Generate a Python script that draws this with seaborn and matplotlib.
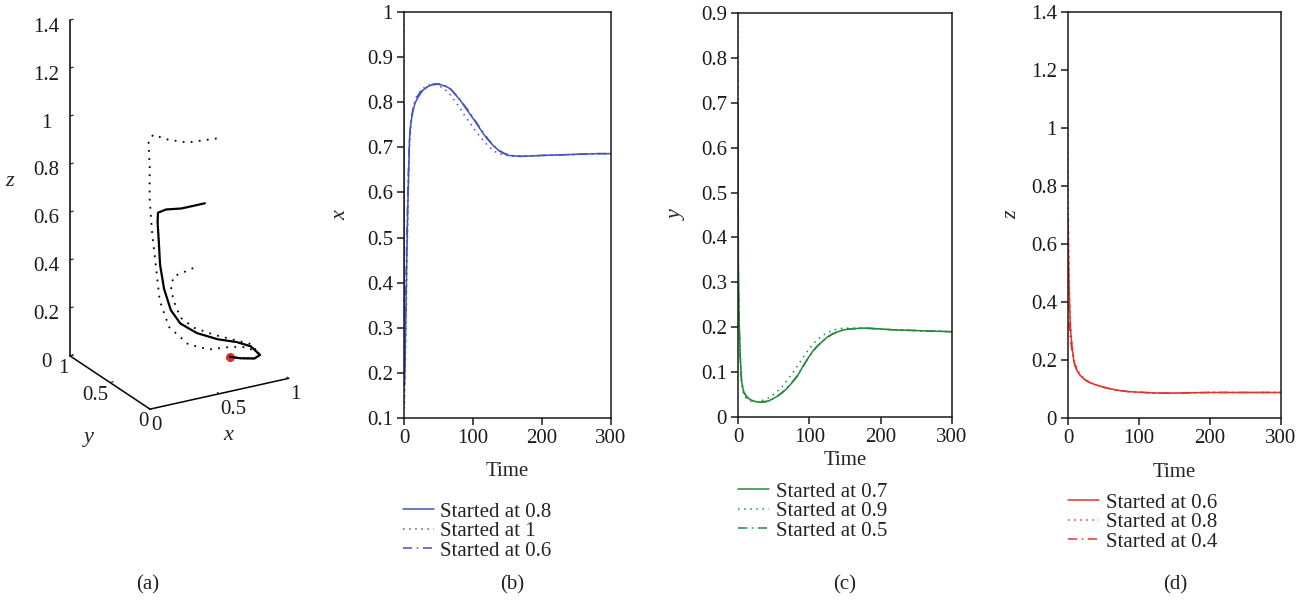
import numpy as np
import matplotlib
matplotlib.use("Agg")
import matplotlib.pyplot as plt
import seaborn as sns
from matplotlib.ticker import FuncFormatter

# ---------------- data ----------------
# (a) phase-space trajectories (x, y, z) for the three initial states
traj_solid_x = [0.80, 0.63, 0.52, 0.45, 0.43, 0.41, 0.39, 0.39, 0.41, 0.45, 0.54, 0.66, 0.77, 0.84, 0.88, 0.84, 0.75, 0.686]
traj_solid_y = [0.70, 0.70, 0.70, 0.68, 0.65, 0.60, 0.55, 0.50, 0.45, 0.40, 0.35, 0.30, 0.25, 0.20, 0.15, 0.15, 0.17, 0.19]
traj_solid_z = [0.60, 0.60, 0.61, 0.61, 0.58, 0.51, 0.43, 0.34, 0.26, 0.21, 0.17, 0.14, 0.125, 0.11, 0.08, 0.07, 0.078, 0.088]

traj_high_x = [1.00, 0.79, 0.65, 0.53, 0.48, 0.46, 0.43, 0.42, 0.40, 0.37, 0.38, 0.46, 0.57, 0.69, 0.80, 0.88, 0.84, 0.75, 0.686]
traj_high_y = [0.90, 0.90, 0.90, 0.88, 0.85, 0.80, 0.75, 0.70, 0.62, 0.52, 0.42, 0.32, 0.25, 0.20, 0.17, 0.15, 0.15, 0.17, 0.19]
traj_high_z = [0.80, 0.81, 0.84, 0.88, 0.86, 0.77, 0.66, 0.52, 0.41, 0.29, 0.20, 0.14, 0.12, 0.126, 0.118, 0.08, 0.07, 0.078, 0.088]

traj_low_x = [0.60, 0.52, 0.45, 0.41, 0.41, 0.44, 0.51, 0.62, 0.74, 0.83, 0.88, 0.84, 0.75, 0.686]
traj_low_y = [0.50, 0.50, 0.48, 0.45, 0.42, 0.38, 0.33, 0.27, 0.22, 0.18, 0.15, 0.15, 0.17, 0.19]
traj_low_z = [0.40, 0.39, 0.39, 0.36, 0.31, 0.24, 0.20, 0.17, 0.144, 0.125, 0.08, 0.07, 0.078, 0.088]

equilibrium = [0.686, 0.19, 0.088]

# (b) x(t)
time_b = [0, 0.5, 1.5, 3, 4, 5, 6, 8, 10, 13, 16, 20, 27, 35, 42, 48, 55, 62, 68, 75, 82, 88, 95,
          102, 108, 115, 122, 130, 138, 145, 152, 160, 170, 185, 200, 220, 240, 260, 280, 300]
x_start_08 = [0.80, 0.17, 0.22, 0.35, 0.45, 0.53, 0.60, 0.72, 0.755, 0.78, 0.798, 0.81, 0.826, 0.835, 0.839,
              0.840, 0.838, 0.834, 0.829, 0.816, 0.803, 0.79, 0.775, 0.76, 0.746, 0.73, 0.716, 0.703, 0.692,
              0.686, 0.682, 0.681, 0.680, 0.681, 0.682, 0.683, 0.684, 0.685, 0.686, 0.686]
x_start_1 = [1.00, 0.12, 0.18, 0.30, 0.40, 0.50, 0.58, 0.70, 0.75, 0.785, 0.805, 0.818, 0.83, 0.838, 0.840,
             0.838, 0.833, 0.825, 0.815, 0.80, 0.785, 0.77, 0.755, 0.74, 0.728, 0.715, 0.703, 0.692, 0.686,
             0.683, 0.681, 0.680, 0.680, 0.681, 0.682, 0.683, 0.684, 0.685, 0.686, 0.686]
x_start_06 = [0.60, 0.20, 0.27, 0.42, 0.50, 0.57, 0.63, 0.72, 0.76, 0.785, 0.80, 0.815, 0.828, 0.836, 0.840,
              0.841, 0.840, 0.835, 0.828, 0.817, 0.805, 0.792, 0.778, 0.762, 0.748, 0.733, 0.718, 0.704,
              0.693, 0.687, 0.683, 0.681, 0.680, 0.681, 0.682, 0.683, 0.684, 0.685, 0.686, 0.686]

# (c) y(t)
time_c = [0, 0.5, 1.5, 3, 5, 8, 12, 16, 21, 26, 31, 36, 42, 48, 55, 62, 69, 76, 83, 90, 97, 104, 111,
          118, 125, 132, 140, 148, 156, 165, 175, 185, 200, 220, 240, 260, 280, 300]
y_start_07 = [0.70, 0.35, 0.22, 0.14, 0.08, 0.055, 0.045, 0.04, 0.036, 0.034, 0.033, 0.033, 0.035, 0.04,
              0.046, 0.054, 0.064, 0.077, 0.09, 0.11, 0.128, 0.145, 0.158, 0.168, 0.178, 0.185, 0.19,
              0.194, 0.196, 0.197, 0.198, 0.198, 0.196, 0.194, 0.193, 0.192, 0.191, 0.19]
y_start_09 = [0.90, 0.30, 0.20, 0.13, 0.075, 0.05, 0.04, 0.036, 0.034, 0.034, 0.035, 0.038, 0.042, 0.048,
              0.057, 0.068, 0.082, 0.097, 0.113, 0.13, 0.146, 0.16, 0.172, 0.181, 0.188, 0.193, 0.196,
              0.198, 0.198, 0.198, 0.198, 0.197, 0.196, 0.194, 0.193, 0.192, 0.191, 0.19]
y_start_05 = [0.50, 0.30, 0.21, 0.14, 0.08, 0.056, 0.046, 0.04, 0.036, 0.034, 0.033, 0.034, 0.036, 0.04,
              0.046, 0.055, 0.066, 0.078, 0.092, 0.11, 0.128, 0.144, 0.157, 0.168, 0.177, 0.184, 0.19,
              0.194, 0.196, 0.197, 0.198, 0.197, 0.196, 0.194, 0.193, 0.192, 0.191, 0.19]

# (d) z(t)
time_d = [0, 0.5, 1, 2, 3, 4, 6, 8, 10, 13, 16, 20, 25, 30, 37, 45, 55, 65, 75, 85, 100, 115, 130,
          150, 175, 200, 250, 300]
z_start_06 = [0.69, 0.60, 0.52, 0.41, 0.34, 0.29, 0.24, 0.20, 0.18, 0.162, 0.15, 0.14, 0.13, 0.123,
              0.116, 0.11, 0.103, 0.098, 0.094, 0.091, 0.089, 0.087, 0.086, 0.086, 0.087, 0.088, 0.088, 0.088]
z_start_08 = [1.00, 0.75, 0.60, 0.45, 0.36, 0.30, 0.25, 0.21, 0.19, 0.17, 0.155, 0.143, 0.133, 0.125,
              0.117, 0.11, 0.103, 0.098, 0.094, 0.091, 0.089, 0.087, 0.086, 0.086, 0.087, 0.088, 0.088, 0.088]
z_start_04 = [0.40, 0.37, 0.35, 0.31, 0.28, 0.26, 0.225, 0.20, 0.18, 0.163, 0.151, 0.14, 0.13, 0.123,
              0.116, 0.11, 0.103, 0.098, 0.094, 0.091, 0.089, 0.087, 0.086, 0.086, 0.087, 0.088, 0.088, 0.088]

labels_b = ["Started at 0.8", "Started at 1", "Started at 0.6"]
labels_c = ["Started at 0.7", "Started at 0.9", "Started at 0.5"]
labels_d = ["Started at 0.6", "Started at 0.8", "Started at 0.4"]
panel_tags = ["(a)", "(b)", "(c)", "(d)"]

# ---------------- style ----------------
sns.set_style("white")
plt.rcParams["font.family"] = ["Liberation Serif", "DejaVu Serif"]
plt.rcParams["axes.edgecolor"] = "#1a1a1a"
plt.rcParams["xtick.color"] = "#1a1a1a"
plt.rcParams["ytick.color"] = "#1a1a1a"
plt.rcParams["text.color"] = "#222222"

FS = 15
W, H = 1306, 604
fig = plt.figure(figsize=(W / 100, H / 100), dpi=100)

BLUE = "#4453bd"
GREEN = "#1f8a3a"
RED = "#e2342c"
STYLES = ["-", (0, (1, 3)), (0, (6, 3, 1, 3))]
fmt = FuncFormatter(lambda v, p: f"{v:g}")


def px_axes(left, right, top, bottom, **kw):
    return fig.add_axes([left / W, 1 - bottom / H, (right - left) / W, (bottom - top) / H], **kw)


def series_panel(ax, t, series, labels, color, ylim, yticks, ylabel,
                 xlabelpad, ylabelpad, legend_xy):
    for vals, lab, ls in zip(series, labels, STYLES):
        sns.lineplot(x=t, y=vals, ax=ax, color=color, linestyle=ls, linewidth=1.1,
                     label=lab, sort=False)
    ax.set_xlim(0, 300)
    ax.set_ylim(*ylim)
    ax.set_xticks([0, 100, 200, 300])
    ax.set_yticks(yticks)
    ax.xaxis.set_major_formatter(fmt)
    ax.yaxis.set_major_formatter(fmt)
    ax.tick_params(direction="out", length=5, width=1.1, labelsize=FS, pad=3,
                   top=False, right=False, left=True, bottom=True)
    for s in ax.spines.values():
        s.set_linewidth(1.1)
        s.set_visible(True)
    ax.set_xlabel("Time", fontsize=FS, labelpad=xlabelpad)
    ax.set_ylabel(ylabel, fontsize=FS + 1, style="italic", labelpad=ylabelpad)
    ax.legend(loc="upper left", bbox_to_anchor=(legend_xy[0] / W, 1 - legend_xy[1] / H),
              bbox_transform=fig.transFigure, frameon=False, fontsize=FS,
              handlelength=1.5, handletextpad=0.3, borderpad=0, borderaxespad=0,
              labelspacing=0.0)


# (b)
ax_b = px_axes(404, 611, 12, 418)
series_panel(ax_b, time_b, [x_start_08, x_start_1, x_start_06], labels_b, BLUE,
             (0.1, 1.0), np.arange(0.1, 1.01, 0.1).round(1), "x", 10, 12, (403, 502))

# (c)
ax_c = px_axes(738, 952, 13, 417)
series_panel(ax_c, time_c, [y_start_07, y_start_09, y_start_05], labels_c, GREEN,
             (0, 0.9), np.arange(0, 0.91, 0.1).round(1), "y", 3, 10, (738, 482))

# (d)
ax_d = px_axes(1068, 1281, 12, 418)
series_panel(ax_d, time_d, [z_start_06, z_start_08, z_start_04], labels_d, RED,
             (0, 1.4), np.arange(0, 1.41, 0.2).round(1), "z", 11, 7, (1068, 493))

# (a) phase portrait
ax_a = fig.add_axes([(175 - 160) / W, 1 - (203.5 + 160) / H, 320 / W, 320 / H], projection="3d")
ax_a.set_proj_type("ortho")
ax_a.view_init(elev=22.6, azim=-120)
ax_a.set_box_aspect((1, 1, 2.27), zoom=1.3)
ax_a.plot(traj_solid_x, traj_solid_y, traj_solid_z, color="black", linewidth=1.6)
ax_a.plot(traj_high_x, traj_high_y, traj_high_z, color="black", linewidth=1.3, linestyle=(0, (1, 3.5)))
ax_a.plot(traj_low_x, traj_low_y, traj_low_z, color="black", linewidth=1.3, linestyle=(0, (1, 3.5)))
ax_a.scatter([equilibrium[0]], [equilibrium[1]], [equilibrium[2]], color="#d8312a", s=30,
             depthshade=False, zorder=5)
ax_a.set_xlim(0, 1)
ax_a.set_ylim(0, 1)
ax_a.set_zlim(0, 1.4)
ax_a.set_xticks([0, 0.5, 1])
ax_a.set_yticks([0, 0.5, 1])
ax_a.set_zticks(np.arange(0, 1.41, 0.2).round(1))
for axis in (ax_a.xaxis, ax_a.yaxis, ax_a.zaxis):
    axis.set_pane_color((1, 1, 1, 0))
    axis.set_major_formatter(fmt)
    axis._axinfo["tick"]["inward_factor"] = 0.0
    axis._axinfo["tick"]["outward_factor"] = 0.3
    axis._axinfo["axisline"]["color"] = "black"
    axis._axinfo["axisline"]["linewidth"] = 1.1
    axis.line.set_color("black")
    axis.line.set_linewidth(1.1)
ax_a.grid(False)
ax_a.set_facecolor("none")
ax_a.tick_params(labelsize=FS)
ax_a.tick_params(axis="x", pad=-6)
ax_a.tick_params(axis="y", pad=-7)
ax_a.tick_params(axis="z", pad=5)
for lbl in ax_a.xaxis.get_ticklabels():
    lbl.set_horizontalalignment("left")
for lbl in ax_a.yaxis.get_ticklabels():
    lbl.set_horizontalalignment("right")
ax_a.set_xlabel("x", fontsize=FS + 1, style="italic", labelpad=-8)
ax_a.set_ylabel("y", fontsize=FS + 1, style="italic", labelpad=-3)
ax_a.set_zlabel("z", fontsize=FS + 1, style="italic", labelpad=12)

for tag, xc in zip(panel_tags, [148, 512, 845, 1175]):
    fig.text(xc / W, 1 - 585 / H, tag, ha="center", va="center", fontsize=FS)

fig.savefig("out.png", dpi=100)
